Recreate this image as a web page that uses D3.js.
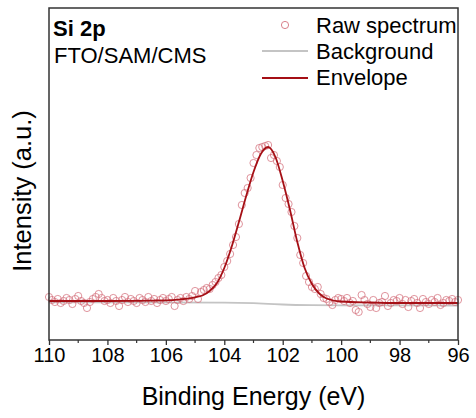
<!DOCTYPE html>
<html>
<head>
<meta charset="utf-8">
<script src="https://cdn.jsdelivr.net/npm/d3@7"></script>
<style>
    body { margin: 0; background: #fff; }
    svg text { font-family: Arial, "Liberation Sans", sans-serif; fill: #000; }
</style>
</head>
<body>
<div id="chart"></div>
<script>
// binding energy grid of the raw spectrum, 110 -> 96 eV, step 0.1
const energyStart = 110;
const energyStep = 0.1;

// raw counts (a.u.)
const rawCounts = [
    430, 400, 380, 410, 370, 390, 420, 400, 360, 410,
    440, 390, 370, 320, 380, 410, 430, 460, 420, 390,
    400, 370, 420, 390, 340, 400, 430, 380, 410, 390,
    370, 420, 400, 380, 430, 390, 410, 370, 400, 420,
    390, 410, 430, 340, 400, 420, 390, 430, 410, 440,
    490, 410, 480, 500, 520, 510, 550, 580, 620, 650,
    730, 790, 860, 950, 1030, 1160, 1350, 1470, 1520, 1620,
    1770, 1850, 1920, 1930, 1940, 1950, 1820, 1850, 1790, 1730,
    1550, 1420, 1360, 1280, 1140, 1020, 850, 770, 640, 580,
    530, 510, 530, 460, 420, 410, 380, 350, 400, 420,
    410, 390, 420, 370, 390, 300, 280, 450, 400, 360,
    330, 400, 320, 370, 380, 440, 340, 370, 400, 390,
    420, 360, 400, 330, 390, 410, 370, 320, 410, 380,
    360, 400, 380, 420, 350, 370, 400, 390, 410, 380,
    400
];

// fitted envelope
const envEnergy = [110, 108, 106, 105.5, 105, 104.75, 104.5, 104.25, 104, 103.75, 103.5, 103.25, 103,
    102.75, 102.5, 102.25, 102, 101.75, 101.5, 101.25, 101, 100.75, 100.5, 100, 99, 98, 96];
const envCounts = [390, 390, 397, 407, 427, 445, 490, 570, 720, 930, 1180, 1440, 1680,
    1860, 1930, 1830, 1590, 1300, 980, 720, 560, 465, 415, 385, 375, 370, 370];

// background (Shirley type)
const bgEnergy = [110, 104, 103, 102.5, 102, 101, 100, 96];
const bgCounts = [377, 374, 368, 362, 355, 348, 346, 345];

const xTicks = [110, 108, 106, 104, 102, 100, 98, 96];
const xMinorTicks = [109, 107, 105, 103, 101, 99, 97];

const rawData = rawCounts.map((c, i) => ({ e: energyStart - i * energyStep, c: c }));
const envData = envEnergy.map((e, i) => ({ e: e, c: envCounts[i] }));
const bgData = bgEnergy.map((e, i) => ({ e: e, c: bgCounts[i] }));

const W = 476, H = 418;
const margin = { top: 8, right: 18, bottom: 78, left: 49 };
const width = W - margin.left - margin.right,
    height = H - margin.top - margin.bottom;

const x = d3.scaleLinear().domain([110, 96]).range([0, width]);
const y = d3.scaleLinear().domain([0, 3320]).range([height, 0]);

const svg = d3.select("#chart")
    .append("svg")
    .attr("width", W)
    .attr("height", H)
    .append("g")
    .attr("transform", `translate(${margin.left},${margin.top})`);

// background line
svg.append("path")
    .datum(bgData)
    .attr("fill", "none")
    .attr("stroke", "#c4c4c4")
    .attr("stroke-width", 1.8)
    .attr("d", d3.line().x(d => x(d.e)).y(d => y(d.c)).curve(d3.curveMonotoneX));

// raw points
svg.append("g")
    .selectAll("circle")
    .data(rawData)
    .join("circle")
    .attr("cx", d => x(d.e))
    .attr("cy", d => y(d.c))
    .attr("r", 3.6)
    .attr("fill", "none")
    .attr("stroke", "#d5737e")
    .attr("stroke-opacity", 0.85)
    .attr("stroke-width", 0.9);

// envelope
svg.append("path")
    .datum(envData)
    .attr("fill", "none")
    .attr("stroke", "#a50f15")
    .attr("stroke-width", 1.8)
    .attr("d", d3.line().x(d => x(d.e)).y(d => y(d.c)).curve(d3.curveMonotoneX));

// frame
svg.append("rect")
    .attr("width", width)
    .attr("height", height)
    .attr("fill", "none")
    .attr("stroke", "#333")
    .attr("stroke-width", 1.5);

// x axis
const xAxis = svg.append("g")
    .attr("transform", `translate(0,${height})`)
    .call(d3.axisBottom(x).tickValues(xTicks).tickSize(5).tickPadding(3).tickFormat(d3.format("d")));
xAxis.select(".domain").remove();
xAxis.selectAll("line").attr("stroke", "#333").attr("stroke-width", 1.3);
xAxis.selectAll("text").style("font-size", "20px").attr("font-family", null);

svg.append("g")
    .attr("transform", `translate(0,${height})`)
    .selectAll("line")
    .data(xMinorTicks)
    .join("line")
    .attr("x1", d => x(d)).attr("x2", d => x(d))
    .attr("y1", 0).attr("y2", 3)
    .attr("stroke", "#333").attr("stroke-width", 1.2);

// axis titles
svg.append("text")
    .attr("x", width / 2)
    .attr("y", 397)
    .attr("text-anchor", "middle")
    .style("font-size", "25px")
    .text("Binding Energy (eV)");

svg.append("text")
    .attr("transform", `translate(${31 - margin.left},${183}) rotate(-90)`)
    .attr("text-anchor", "middle")
    .style("font-size", "25.5px")
    .text("Intensity (a.u.)");

// labels top left
svg.append("text")
    .attr("x", 4).attr("y", 28)
    .style("font-size", "22px").style("font-weight", "bold")
    .text("Si 2p");
svg.append("text")
    .attr("x", 5).attr("y", 55)
    .style("font-size", "22px")
    .text("FTO/SAM/CMS");

// legend
const legend = svg.append("g").attr("transform", "translate(213,0)");
legend.append("circle")
    .attr("cx", 23).attr("cy", 17).attr("r", 3.6)
    .attr("fill", "none").attr("stroke", "#d5737e").attr("stroke-width", 0.9);
legend.append("line")
    .attr("x1", 0).attr("x2", 46).attr("y1", 43).attr("y2", 43)
    .attr("stroke", "#c4c4c4").attr("stroke-width", 1.8);
legend.append("line")
    .attr("x1", 0).attr("x2", 46).attr("y1", 70).attr("y2", 70)
    .attr("stroke", "#a50f15").attr("stroke-width", 1.8);
legend.selectAll("text.lbl")
    .data(["Raw spectrum", "Background", "Envelope"])
    .join("text")
    .attr("class", "lbl")
    .attr("x", 54)
    .attr("y", (d, i) => 24.5 + i * 26.3)
    .style("font-size", "22px")
    .text(d => d);
</script>
</body>
</html>
